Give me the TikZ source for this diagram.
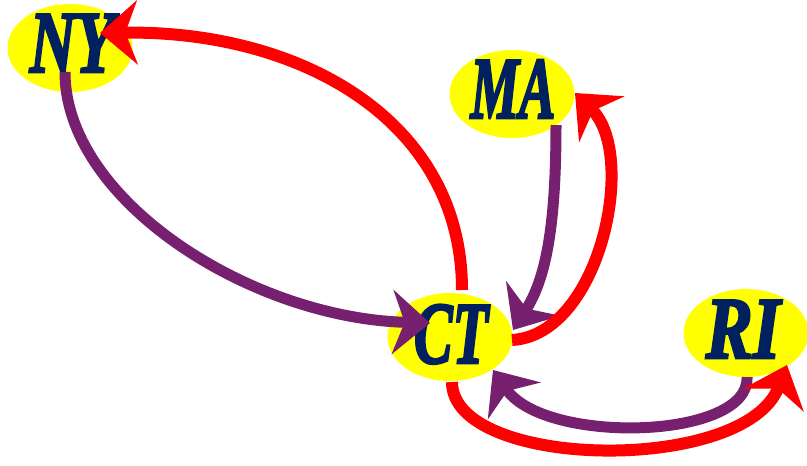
\documentclass[tikz,border=0pt]{standalone}
\usepackage{fontspec}
\usepackage{graphicx}
\setmainfont{Liberation Serif}
\newfontfamily\statefont{Liberation Serif}[FakeBold=3]
\usetikzlibrary{arrows.meta,shapes.geometric,calc}
\definecolor{arrred}{RGB}{255,0,0}
\definecolor{arrpurple}{RGB}{120,32,112}
\definecolor{navy}{RGB}{0,32,96}
\definecolor{nodeyellow}{RGB}{255,255,0}
\newcommand{\statelbl}[2]{\scalebox{#1}[1]{\statefont\fontsize{66}{66}\selectfont\bfseries\itshape #2}}
\begin{document}
\begin{tikzpicture}[x=0.75pt,y=-0.75pt,
  state/.style={ellipse, fill=nodeyellow, minimum width=93.75pt, minimum height=66pt, inner sep=0pt},
  statetext/.style={anchor=base, inner sep=0pt, text=navy},
  bigtip/.tip={Stealth[length=28pt,width=48pt,inset=9pt]},
  redarc/.style={draw=arrred, line width=9pt, -bigtip},
  purparc/.style={draw=arrpurple, line width=8.25pt, -bigtip},
]
\useasboundingbox (0,0) rectangle (807,465);

\node[state] (NY) at (70,48) {};
\node[state] (MA) at (512,94) {};
\node[state] (CT) at (450,337) {};
\node[state] (RI) at (746,333) {};

\node[statetext] (NYt) at (72,72) {\statelbl{0.72}{NY}};
\node[statetext] (MAt) at (513,118) {\statelbl{0.62}{MA}};
\node[statetext] (CTt) at (451,363) {\statelbl{0.66}{CT}};
\node[statetext] (RIt) at (743,358) {\statelbl{0.8}{RI}};

% CT -> NY (red)
\draw[redarc] ($(CT.center)+(12,-47)$) .. controls (462,120) and (300,30) .. ($(NY.center)+(30,-15)$);
% NY -> CT (purple)
\draw[purparc] ($(NY.center)+(-5,24)$) .. controls (65,200) and (250,318) .. ($(CT.center)+(-20,-14)$);
% MA -> CT (purple)
\draw[purparc] ($(MA.center)+(44,31)$) .. controls (556,230) and (545,280) .. ($(CT.center)+(63,-7)$);
% CT -> MA (red)
\draw[redarc] ($(CT.center)+(62,3)$) .. controls (600,335) and (638,155) .. ($(MA.center)+(63,-1)$);
% RI -> CT (purple)
\draw[purparc] ($(RI.center)+(1,44)$) .. controls (750,440) and (545,445) .. ($(CT.center)+(43,33)$);
% CT -> RI (red)
\draw[redarc] ($(CT.center)+(2,45)$) .. controls (452,470) and (745,475) .. ($(RI.center)+(41,32)$);
\end{tikzpicture}
\end{document}
